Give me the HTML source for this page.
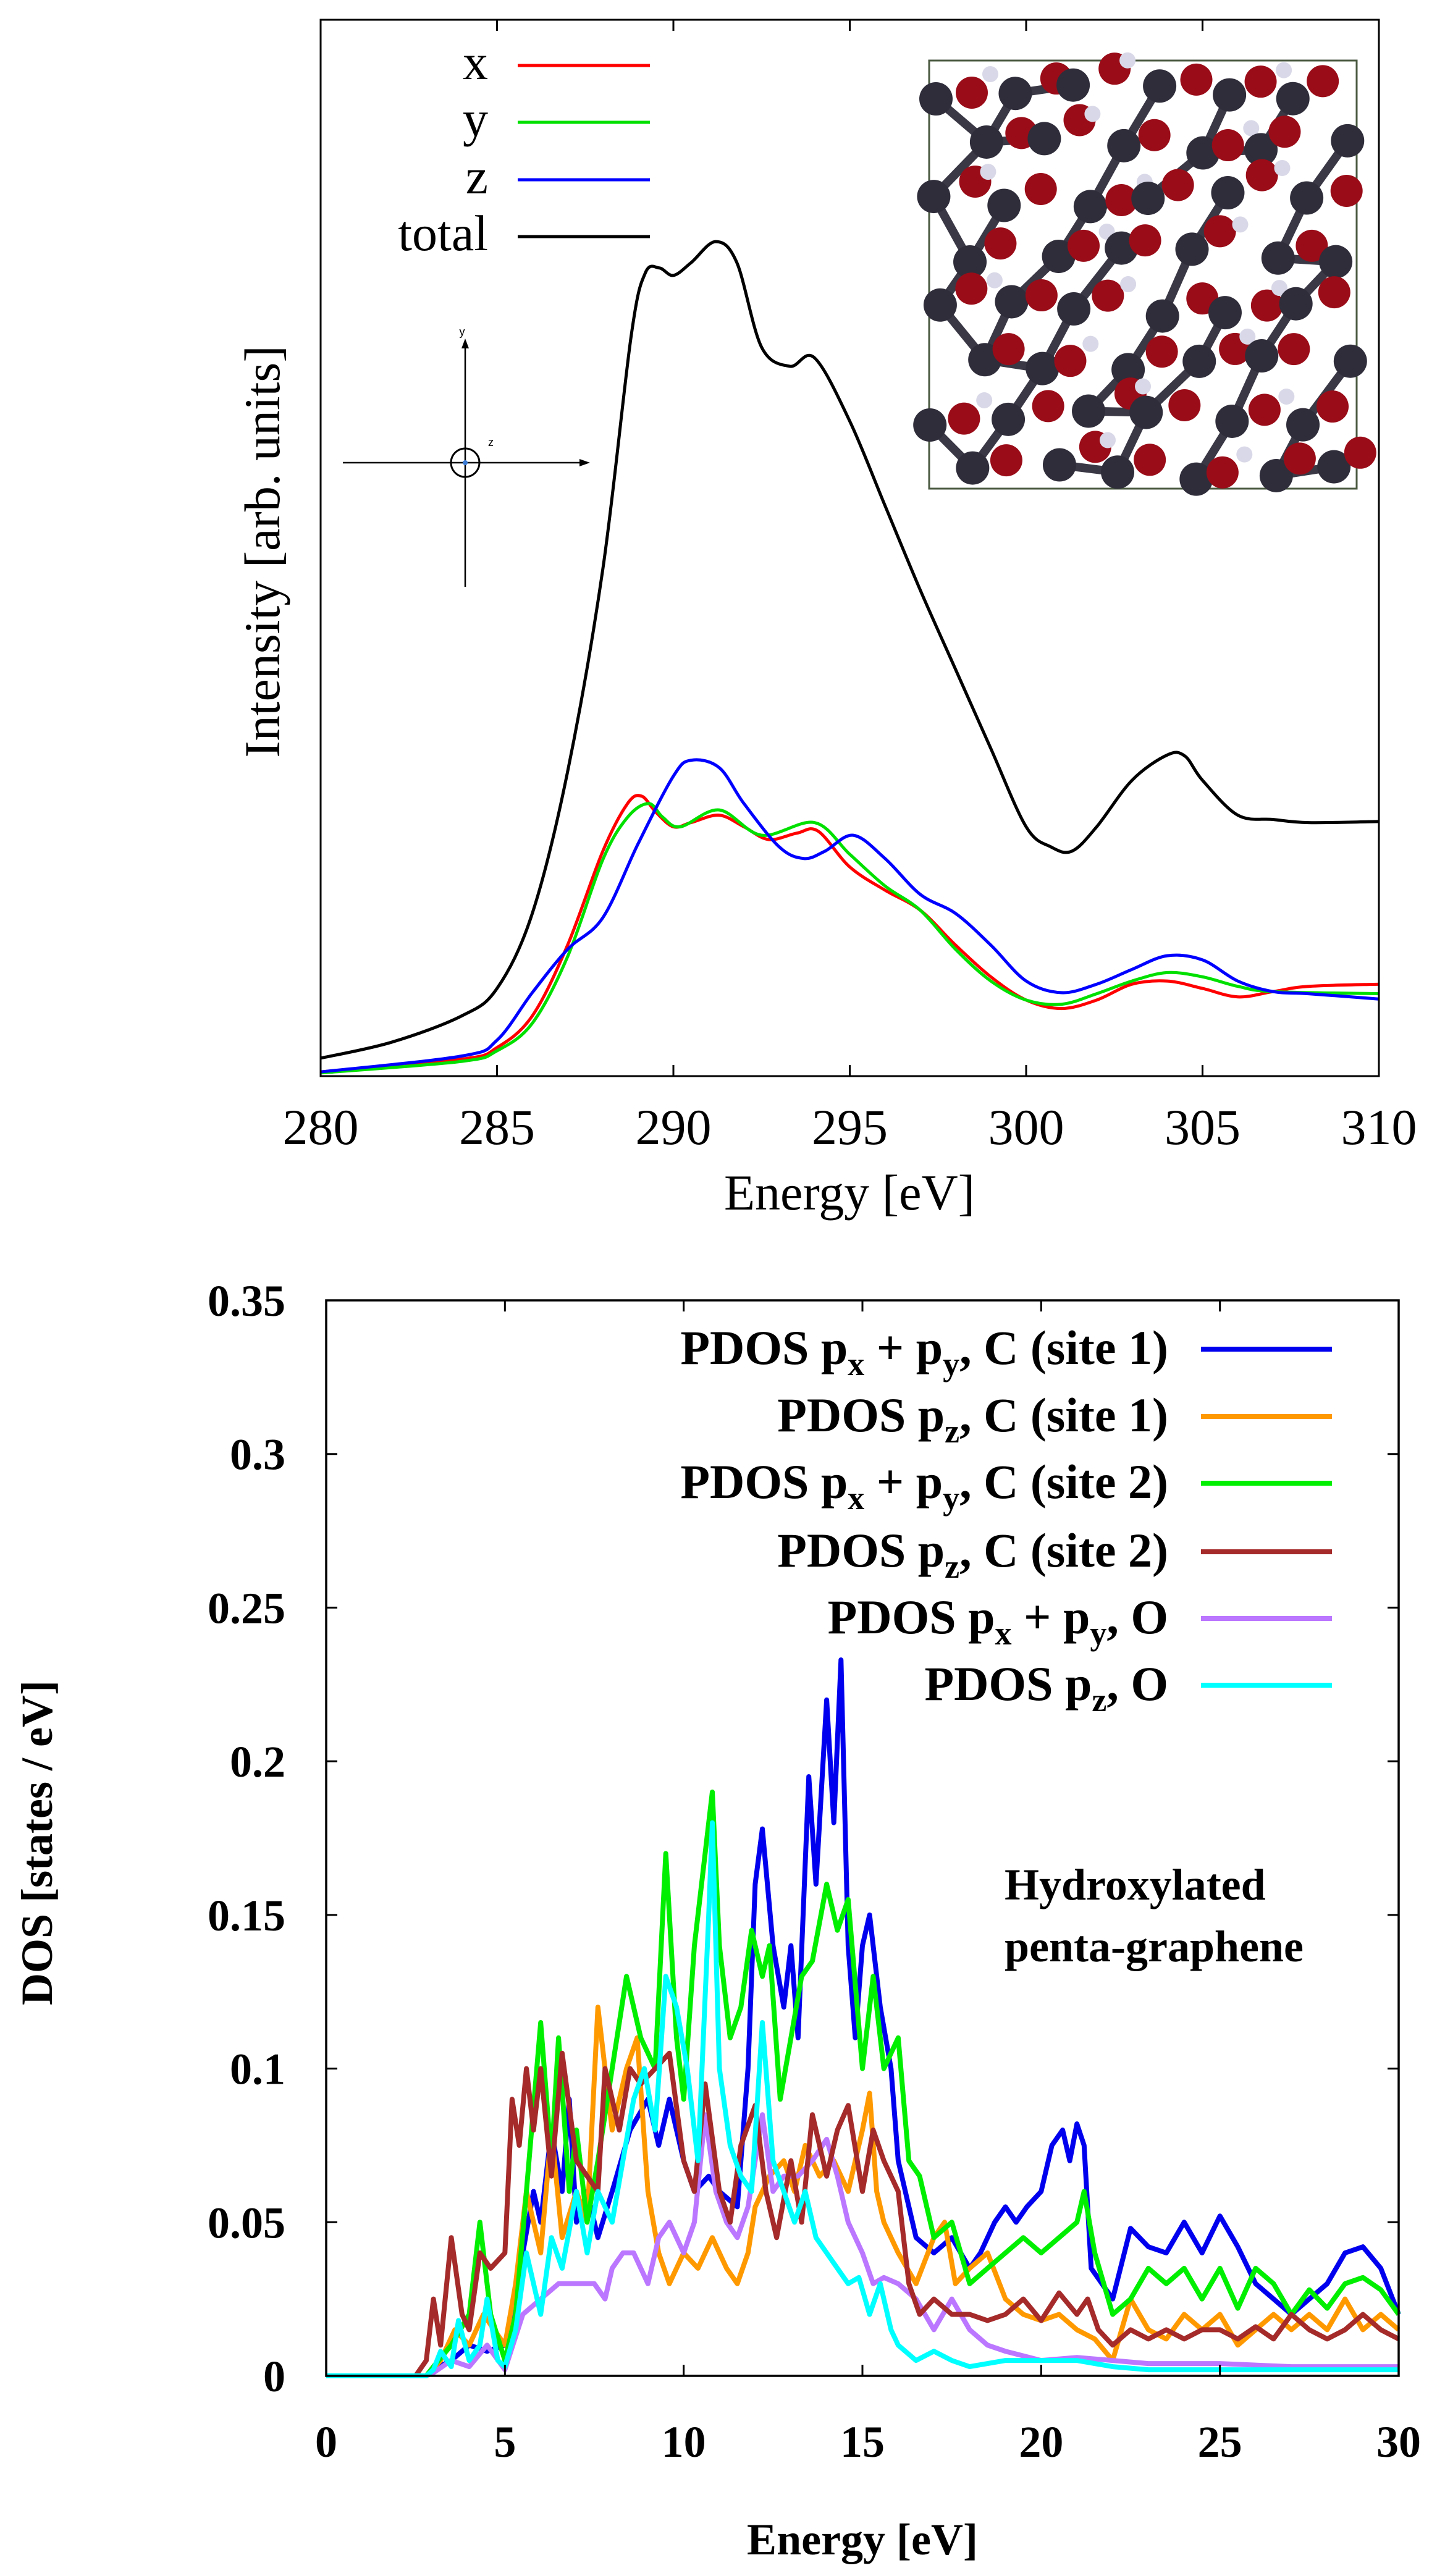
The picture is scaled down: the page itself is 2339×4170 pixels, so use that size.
<!DOCTYPE html>
<html><head><meta charset="utf-8"><style>
html,body{margin:0;padding:0;background:#fff;}
svg{display:block;}
</style></head><body>
<svg id="fig" width="2339" height="4170" viewBox="0 0 2339 4170" xmlns="http://www.w3.org/2000/svg">
<rect x="0" y="0" width="2339" height="4170" fill="#fff"/>
<g id="topchart"></g>
<g id="botchart"></g>
</svg>
<script>
// ===== Top chart data (XAS spectra, intensity in arb. units 0-100) =====
const xasE_x = [280,284,285,286,287,288,288.7,289.1,289.5,290,290.5,291.3,292,292.7,293.5,294.1,295,296,297,298,299,300,301,302,303,304,305,306,307,308,310];
const xasV_x = [0.4,1.6,2.7,5.7,12.4,21.3,25.8,26.5,25,23.6,24,24.7,23.6,22.4,23,23.2,19.8,17.6,15.7,12.4,9.4,7.2,6.4,7.2,8.7,9,8.3,7.5,8,8.5,8.7];
const xasE_y = [280,284,285,286,287,288,288.7,289.3,289.7,290.2,291.3,292.5,294,295,296,297,298,299,300,301,302,303,304,305,306,307,310];
const xasV_y = [0.3,1.4,2.4,5,11.3,20.5,24.5,25.8,24.5,23.6,25.2,22.8,24,21,18,15.7,12,9,7.2,6.8,7.8,9,9.8,9.4,8.5,8,7.8];
const xasE_z = [280,284,285,286,287,288,289,290,290.5,291.3,292,293,293.7,294.3,295.1,296,297,298,299,300,301,302,303,304,305,306,307,308,310];
const xasV_z = [0.4,1.9,3.4,7.9,12,15,22,28.4,29.9,29.2,25.8,21.7,20.6,21.3,22.8,20.6,17.2,15.4,12.4,9,7.9,8.7,10.1,11.4,11,9,8,7.8,7.3];
const xasE_t = [280,282,284,285,286,287,288,288.8,289.2,289.6,290,290.5,291.2,291.8,292.5,293.3,294,295,296,297,298,299,300,300.7,301.3,302,303,304,304.5,305,306,307,308,310];
const xasV_t = [1.7,3.2,5.7,8.3,15.4,28.8,48,70,76,76.5,75.8,77,79,77,69,67.2,68,62,54,46,38.5,31,23.6,21.7,21.3,23.6,28,30.4,30.3,28,24.7,24.3,24,24.1];
const xasTicks = [280,285,290,295,300,305,310];

// ===== Bottom chart data (PDOS, states/eV) =====
const pdosE_c1xy = [0,2.8,3,3.5,4,4.5,5,5.5,5.8,6,6.3,6.6,6.8,7,7.3,7.6,8,8.5,9,9.3,9.6,10,10.3,10.7,11,11.5,11.8,12,12.2,12.5,12.8,13,13.2,13.5,13.7,14,14.2,14.4,14.6,14.8,15,15.2,15.5,15.8,16,16.5,17,17.5,18,18.3,18.7,19,19.3,19.6,20,20.3,20.6,20.8,21,21.2,21.4,21.7,22,22.5,23,23.5,24,24.5,25,25.5,26,26.5,27,27.5,28,28.5,29,29.5,30];
const pdosV_c1xy = [0,0,0.002,0.005,0.01,0.008,0.01,0.04,0.06,0.05,0.08,0.06,0.09,0.05,0.06,0.045,0.06,0.08,0.09,0.075,0.09,0.07,0.06,0.065,0.06,0.055,0.1,0.16,0.178,0.14,0.12,0.14,0.11,0.195,0.16,0.22,0.18,0.233,0.14,0.11,0.14,0.15,0.12,0.1,0.07,0.045,0.04,0.045,0.035,0.04,0.05,0.055,0.05,0.055,0.06,0.075,0.08,0.07,0.082,0.075,0.035,0.03,0.025,0.048,0.042,0.04,0.05,0.04,0.052,0.042,0.03,0.025,0.02,0.025,0.03,0.04,0.042,0.035,0.02];
const pdosE_c1z = [0,2.8,3.2,3.6,4,4.4,5,5.3,5.6,6,6.3,6.6,7,7.3,7.6,8,8.4,8.7,9,9.3,9.6,10,10.4,10.8,11.2,11.5,11.8,12,12.4,12.8,13.1,13.4,13.8,14.2,14.6,15,15.2,15.4,15.6,16,16.5,17,17.3,17.6,18,18.5,19,19.5,20,20.5,21,21.5,22,22.5,23,23.5,24,24.5,25,25.5,26,26.5,27,27.5,28,28.5,29,29.5,30];
const pdosV_c1z = [0,0,0.005,0.015,0.01,0.02,0.01,0.03,0.06,0.04,0.08,0.045,0.06,0.05,0.12,0.08,0.1,0.11,0.06,0.04,0.03,0.04,0.035,0.045,0.035,0.03,0.04,0.055,0.065,0.07,0.06,0.075,0.065,0.07,0.06,0.08,0.092,0.06,0.05,0.04,0.03,0.045,0.05,0.03,0.035,0.04,0.025,0.02,0.018,0.02,0.015,0.012,0.005,0.025,0.015,0.012,0.02,0.015,0.02,0.01,0.015,0.02,0.015,0.02,0.015,0.025,0.015,0.02,0.015];
const pdosE_c2xy = [0,2.8,3,3.5,4,4.3,4.6,5,5.3,5.6,6,6.3,6.5,6.8,7,7.3,7.6,8,8.4,8.8,9.2,9.5,9.8,10,10.3,10.6,10.8,11,11.3,11.6,11.9,12.2,12.4,12.7,13,13.3,13.6,14,14.3,14.6,15,15.3,15.6,16,16.3,16.6,17,17.5,18,18.5,19,19.5,20,20.5,21,21.2,21.5,22,22.5,23,23.5,24,24.5,25,25.5,26,26.5,27,27.5,28,28.5,29,29.5,30];
const pdosV_c2xy = [0,0,0.003,0.01,0.02,0.05,0.02,0.005,0.02,0.06,0.115,0.07,0.11,0.06,0.08,0.05,0.07,0.1,0.13,0.11,0.1,0.17,0.11,0.09,0.14,0.17,0.19,0.14,0.11,0.12,0.145,0.13,0.14,0.09,0.11,0.13,0.135,0.16,0.145,0.155,0.1,0.13,0.1,0.11,0.07,0.065,0.045,0.05,0.03,0.035,0.04,0.045,0.04,0.045,0.05,0.06,0.04,0.02,0.025,0.035,0.03,0.035,0.025,0.035,0.022,0.035,0.03,0.02,0.028,0.022,0.03,0.032,0.028,0.02];
const pdosE_c2z = [0,2.5,2.8,3,3.2,3.5,3.8,4,4.3,4.6,5,5.2,5.4,5.6,5.8,6,6.3,6.6,7,7.3,7.6,7.8,8.2,8.5,8.8,9.2,9.6,10,10.3,10.6,11,11.3,11.6,12,12.3,12.6,13,13.3,13.6,14,14.3,14.6,15,15.3,15.6,16,16.3,16.6,17,17.5,18,18.5,19,19.5,20,20.5,21,21.3,21.6,22,22.5,23,23.5,24,24.5,25,25.5,26,26.5,27,27.5,28,28.5,29,29.5,30];
const pdosV_c2z = [0,0,0.005,0.025,0.01,0.045,0.02,0.015,0.04,0.035,0.04,0.09,0.075,0.1,0.08,0.1,0.065,0.105,0.07,0.065,0.06,0.1,0.08,0.1,0.095,0.1,0.105,0.07,0.06,0.095,0.06,0.05,0.075,0.088,0.06,0.045,0.07,0.05,0.085,0.065,0.08,0.088,0.06,0.08,0.07,0.06,0.03,0.02,0.025,0.02,0.02,0.018,0.02,0.025,0.018,0.027,0.02,0.025,0.015,0.01,0.015,0.012,0.015,0.012,0.015,0.015,0.012,0.016,0.012,0.02,0.015,0.012,0.015,0.02,0.015,0.012];
const pdosE_oxy = [0,2.8,3,3.5,4,4.5,5,5.5,6,6.5,7,7.5,7.8,8,8.3,8.6,9,9.3,9.6,10,10.3,10.6,10.9,11.2,11.5,11.8,12.2,12.5,12.8,13.2,13.6,14,14.3,14.6,15,15.3,15.6,16,16.5,17,17.5,18,18.5,19,20,21,22,23,25,27,30];
const pdosV_oxy = [0,0,0.001,0.005,0.003,0.01,0.002,0.02,0.025,0.03,0.03,0.03,0.025,0.035,0.04,0.04,0.03,0.045,0.05,0.04,0.05,0.085,0.06,0.05,0.045,0.055,0.085,0.06,0.065,0.065,0.07,0.077,0.065,0.05,0.04,0.03,0.032,0.03,0.025,0.015,0.025,0.015,0.01,0.008,0.005,0.006,0.005,0.004,0.004,0.003,0.003];
const pdosE_oz = [0,2.8,3,3.2,3.5,3.7,4,4.3,4.5,4.8,5,5.3,5.6,6,6.3,6.6,7,7.3,7.6,8,8.3,8.6,8.9,9.2,9.5,9.8,10.1,10.4,10.7,10.8,11,11.3,11.6,11.9,12.2,12.5,12.8,13.1,13.4,13.7,14,14.3,14.6,14.9,15.2,15.5,15.8,16,16.5,17,17.5,18,19,20,21,22,23,25,30];
const pdosV_oz = [0,0,0.002,0.008,0.003,0.018,0.005,0.01,0.025,0.005,0.003,0.015,0.04,0.02,0.045,0.035,0.06,0.04,0.06,0.05,0.07,0.09,0.1,0.08,0.13,0.12,0.1,0.07,0.15,0.18,0.1,0.075,0.065,0.06,0.115,0.07,0.06,0.05,0.06,0.045,0.04,0.035,0.03,0.032,0.02,0.03,0.015,0.01,0.005,0.008,0.005,0.003,0.005,0.005,0.005,0.003,0.002,0.002,0.002];
const pdosYTicks = [0,0.05,0.1,0.15,0.2,0.25,0.3,0.35];
const pdosYLabels = ["0","0.05","0.1","0.15","0.2","0.25","0.3","0.35"];
const pdosXTicks = [0,5,10,15,20,25,30];

const NS = "http://www.w3.org/2000/svg";
function mk(parent, tag, attrs, text){
  const e = document.createElementNS(NS, tag);
  for (const k in attrs) e.setAttribute(k, attrs[k]);
  if (text !== undefined) e.textContent = text;
  parent.appendChild(e);
  return e;
}
function smoothPath(pts){
  let d = "M" + pts[0][0].toFixed(1) + "," + pts[0][1].toFixed(1);
  for (let i = 0; i < pts.length - 1; i++){
    const p0 = pts[Math.max(0,i-1)], p1 = pts[i], p2 = pts[i+1], p3 = pts[Math.min(pts.length-1,i+2)];
    const c1x = p1[0] + (p2[0]-p0[0])/6, c1y = p1[1] + (p2[1]-p0[1])/6;
    const c2x = p2[0] - (p3[0]-p1[0])/6, c2y = p2[1] - (p3[1]-p1[1])/6;
    d += " C" + c1x.toFixed(1)+","+c1y.toFixed(1)+" "+c2x.toFixed(1)+","+c2y.toFixed(1)+" "+p2[0].toFixed(1)+","+p2[1].toFixed(1);
  }
  return d;
}

// ===== TOP CHART =====
const topG = document.getElementById("topchart");
const T = {x0:519, x1:2232, y0:32, y1:1742};
const tx = e => T.x0 + (e-280)/30*(T.x1-T.x0);
const ty = v => T.y1 - v/100*(T.y1-T.y0);
const serif = '"Liberation Serif", serif';

[["x",xasE_x,xasV_x,"#ff0000"],["y",xasE_y,xasV_y,"#00e000"],["z",xasE_z,xasV_z,"#0000ff"],["total",xasE_t,xasV_t,"#000000"]].forEach(s=>{
  const pts = s[1].map((e,i)=>[tx(e), ty(s[2][i])]);
  const p = mk(topG,"path",{d:smoothPath(pts),fill:"none",stroke:s[3],"stroke-width":5,"stroke-linejoin":"round"});
  
  
});

const tf = mk(topG,"rect",{x:T.x0,y:T.y0,width:T.x1-T.x0,height:T.y1-T.y0,fill:"none",stroke:"#000","stroke-width":3});


xasTicks.forEach(t=>{
  const x = tx(t);
  mk(topG,"line",{x1:x,y1:T.y1,x2:x,y2:T.y1-18,stroke:"#000","stroke-width":3});
  mk(topG,"line",{x1:x,y1:T.y0,x2:x,y2:T.y0+18,stroke:"#000","stroke-width":3});
  const lb = mk(topG,"text",{x:x,y:1852,"text-anchor":"middle","font-family":serif,"font-size":82},String(t));
  
  
});
const txl = mk(topG,"text",{x:1375,y:1958,"text-anchor":"middle","font-family":serif,"font-size":82},"Energy [eV]");


const tyl = mk(topG,"text",{x:0,y:0,"text-anchor":"middle","font-family":serif,"font-size":82,transform:"translate(452,893) rotate(-90)"},"Intensity [arb. units]");



[["x","#ff0000",106],["y","#00e000",198],["z","#0000ff",291],["total","#000000",383]].forEach(l=>{
  const g = mk(topG,"g",{});
  
  
  mk(g,"text",{x:790,y:l[2]+22,"text-anchor":"end","font-family":serif,"font-size":82},l[0]);
  mk(g,"line",{x1:838,y1:l[2],x2:1052,y2:l[2],stroke:l[1],"stroke-width":5});
});

const ax = mk(topG,"g",{});


mk(ax,"line",{x1:555,y1:749,x2:950,y2:749,stroke:"#000","stroke-width":2.5});
mk(ax,"path",{d:"M955,749 L938,743 L938,755 Z",fill:"#000"});
mk(ax,"line",{x1:753,y1:950,x2:753,y2:555,stroke:"#000","stroke-width":2.5});
mk(ax,"path",{d:"M753,548 L747,564 L759,564 Z",fill:"#000"});
mk(ax,"circle",{cx:753,cy:749,r:23,fill:"none",stroke:"#000","stroke-width":3});
mk(ax,"circle",{cx:753,cy:749,r:4,fill:"#3a7bd5"});
mk(ax,"text",{x:748,y:543,"font-family":'"Liberation Sans", sans-serif',"font-size":18,"text-anchor":"middle"},"y");
mk(ax,"text",{x:790,y:722,"font-family":'"Liberation Sans", sans-serif',"font-size":18},"z");

const mol = mk(topG,"g",{});


mk(mol,"rect",{x:1504,y:98,width:692,height:693,fill:"#fff",stroke:"#4a5a40","stroke-width":3});
const bonds = mk(mol,"g",{stroke:"#3a3845","stroke-width":14,"stroke-linecap":"round"});
const atoms = [];
for (let r=0;r<8;r++){
  for (let c=0;c<6;c++){
    const ax0 = 1515 + c*118 + (r%2)*58 + 14*Math.sin(r*1.7+c*2.3);
    const ay0 = 120 + r*88 + 12*Math.cos(r*2.1+c*1.3);
    atoms.push([ax0+(r%2?10:0), ay0+28, 'C']);
    atoms.push([ax0+58+10*Math.sin(c+r), ay0+8+10*Math.cos(c*2+r), 'O']);
    if ((r+c)%2===0) atoms.push([ax0+88, ay0-12, 'H']);
  }
}
atoms.forEach(a=>{
  if (a[2]==='C'){
    const b = atoms.find(o=>o!==a && o[2]==='C' && Math.abs(o[0]-a[0])<100 && o[1]>a[1] && o[1]-a[1]<110);
    if (b) mk(bonds,"line",{x1:a[0],y1:a[1],x2:b[0],y2:b[1]});
  }
});
atoms.forEach(a=>{
  if (a[0]<1490 || a[0]>2215 || a[1]<85 || a[1]>810) return;
  if (a[2]==='C') mk(mol,"circle",{cx:a[0],cy:a[1],r:27,fill:"#2f2d3a"});
  else if (a[2]==='O') mk(mol,"circle",{cx:a[0],cy:a[1],r:26,fill:"#9a0c18"});
  else mk(mol,"circle",{cx:a[0],cy:a[1],r:13,fill:"#d8d8e8"});
});

// ===== BOTTOM CHART =====
const botG = document.getElementById("botchart");
const B = {x0:528, x1:2264, y0:2105, y1:3846};
const bx = e => B.x0 + e/30*(B.x1-B.x0);
const by = v => B.y1 - v/0.35*(B.y1-B.y0);
const bold = '"Liberation Serif", serif';

const series = [
  ["pdos-c1-pxpy",pdosE_c1xy,pdosV_c1xy,"#0000ee"],
  ["pdos-c1-pz",pdosE_c1z,pdosV_c1z,"#ff9900"],
  ["pdos-c2-pxpy",pdosE_c2xy,pdosV_c2xy,"#00ee00"],
  ["pdos-o-pxpy",pdosE_oxy,pdosV_oxy,"#bb77ff"],
  ["pdos-c2-pz",pdosE_c2z,pdosV_c2z,"#a52a2a"],
  ["pdos-o-pz",pdosE_oz,pdosV_oz,"#00ffff"]
];
series.forEach(s=>{
  const pts = s[1].map((e,i)=>bx(e).toFixed(1)+","+by(s[2][i]).toFixed(1)).join(" ");
  const p = mk(botG,"polyline",{points:pts,fill:"none",stroke:s[3],"stroke-width":8,"stroke-linejoin":"round"});
  
  
});

const bf = mk(botG,"rect",{x:B.x0,y:B.y0,width:B.x1-B.x0,height:B.y1-B.y0,fill:"none",stroke:"#000","stroke-width":3.5});


pdosYTicks.forEach((t,i)=>{
  const y = by(t);
  mk(botG,"line",{x1:B.x0,y1:y,x2:B.x0+18,y2:y,stroke:"#000","stroke-width":3});
  mk(botG,"line",{x1:B.x1,y1:y,x2:B.x1-18,y2:y,stroke:"#000","stroke-width":3});
  const lb = mk(botG,"text",{x:462,y:y+25,"text-anchor":"end","font-family":bold,"font-weight":"bold","font-size":72},pdosYLabels[i]);
  
  
});
pdosXTicks.forEach(t=>{
  const x = bx(t);
  mk(botG,"line",{x1:x,y1:B.y1,x2:x,y2:B.y1-18,stroke:"#000","stroke-width":3});
  mk(botG,"line",{x1:x,y1:B.y0,x2:x,y2:B.y0+18,stroke:"#000","stroke-width":3});
  const lb = mk(botG,"text",{x:x,y:3977,"text-anchor":"middle","font-family":bold,"font-weight":"bold","font-size":72},String(t));
  
  
});
const bxl = mk(botG,"text",{x:1396,y:4135,"text-anchor":"middle","font-family":bold,"font-weight":"bold","font-size":72},"Energy [eV]");


const byl = mk(botG,"text",{x:0,y:0,"text-anchor":"middle","font-family":bold,"font-weight":"bold","font-size":72,transform:"translate(84,2983) rotate(-90)"},"DOS [states / eV]");



const legRows = [
  [2184,"#0000ee",[["PDOS p",0],["x",1],[" + p",-1],["y",1],[", C (site 1)",-1]],"legend-entry-c1-pxpy"],
  [2293,"#ff9900",[["PDOS p",0],["z",1],[", C (site 1)",-1]],"legend-entry-c1-pz"],
  [2401,"#00ee00",[["PDOS p",0],["x",1],[" + p",-1],["y",1],[", C (site 2)",-1]],"legend-entry-c2-pxpy"],
  [2512,"#a52a2a",[["PDOS p",0],["z",1],[", C (site 2)",-1]],"legend-entry-c2-pz"],
  [2620,"#bb77ff",[["PDOS p",0],["x",1],[" + p",-1],["y",1],[", O",-1]],"legend-entry-o-pxpy"],
  [2728,"#00ffff",[["PDOS p",0],["z",1],[", O",-1]],"legend-entry-o-pz"]
];
legRows.forEach(r=>{
  const g = mk(botG,"g",{});
  
  
  const t = mk(g,"text",{x:1891,y:r[0]+24,"text-anchor":"end","font-family":bold,"font-weight":"bold","font-size":78});
  r[2].forEach(part=>{
    const sp = mk(t,"tspan",{},part[0]);
    if (part[1]===1){ sp.setAttribute("font-size","54"); sp.setAttribute("dy","18"); }
    else if (part[1]===-1){ sp.setAttribute("dy","-18"); }
  });
  mk(g,"line",{x1:1944,y1:r[0],x2:2156,y2:r[0],stroke:r[1],"stroke-width":8});
});
const ann = mk(botG,"text",{x:1626,y:3075,"font-family":bold,"font-weight":"bold","font-size":72});


mk(ann,"tspan",{x:1626,y:3075},"Hydroxylated");
mk(ann,"tspan",{x:1626,y:3175},"penta-graphene");
</script>
</body></html>
